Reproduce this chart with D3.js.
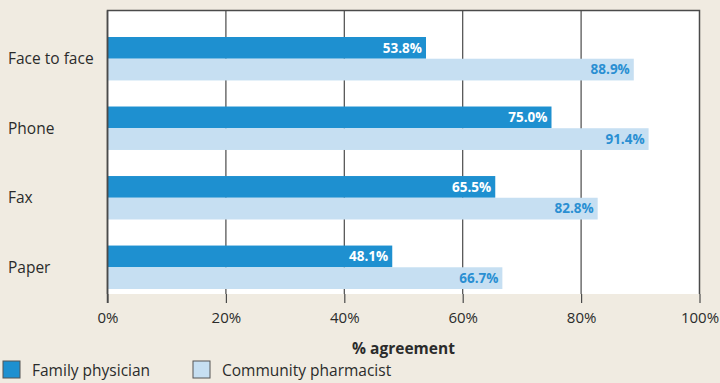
<!DOCTYPE html>
<html>
<head>
<meta charset="utf-8">
<script src="https://cdn.jsdelivr.net/npm/d3@7"></script>
<style>
  body { margin: 0; background: #f0ebe1; }
  svg { display: block; font-family: "Open Sans", "Noto Sans", sans-serif; }
</style>
</head>
<body>
<svg id="svg1" width="720" height="383"></svg>
<script>
'use strict';

// chart data
let categories = ["Face to face", "Phone", "Fax", "Paper"];
let seriesNames = ["Family physician", "Community pharmacist"];
let physician = [53.8, 75.0, 65.5, 48.1];
let pharmacist = [88.9, 91.4, 82.8, 66.7];
let xTicks = [0, 20, 40, 60, 80, 100];

let colours = ["#1e90d0", "#c6dff2"];
let labelColours = ["#ffffff", "#2a8fd2"];

let svg = d3.select("#svg1");
let plotLeft = 107.5, plotRight = 699.5, plotTop = 10.5, plotBottom = 294;

let x = d3.scaleLinear().domain([0, 100]).range([plotLeft, plotRight]);
let y = d3.scaleBand().domain(categories).range([37, 289]).paddingInner(0.375).paddingOuter(0);
let sub = d3.scaleBand().domain([0, 1]).range([0, y.bandwidth()]);

// plot background
svg.append("rect")
  .attr("x", plotLeft).attr("y", plotTop)
  .attr("width", plotRight - plotLeft).attr("height", plotBottom - plotTop)
  .style("fill", "#ffffff");

// grid lines
svg.append("g")
  .selectAll("line")
  .data(xTicks.slice(1, -1))
  .enter().append("line")
  .attr("x1", d => x(d)).attr("x2", d => x(d))
  .attr("y1", plotTop).attr("y2", plotBottom)
  .style("stroke", "#4a4a4a").style("stroke-width", 1.2);

// bars
let data = [];
categories.forEach((c, i) => {
  data.push({cat: c, s: 0, v: physician[i]});
  data.push({cat: c, s: 1, v: pharmacist[i]});
});

svg.append("g")
  .selectAll("rect")
  .data(data)
  .enter().append("rect")
  .attr("x", x(0))
  .attr("y", d => y(d.cat) + sub(d.s))
  .attr("width", d => x(d.v) - x(0))
  .attr("height", sub.bandwidth())
  .style("fill", d => colours[d.s]);

svg.append("g")
  .selectAll("text")
  .data(data)
  .enter().append("text")
  .attr("x", d => x(d.v) - 4)
  .attr("y", d => y(d.cat) + sub(d.s) + sub.bandwidth() / 2)
  .attr("dy", "0.36em")
  .attr("text-anchor", "end")
  .style("font-size", "13.5px")
  .style("font-weight", "bold")
  .style("fill", d => labelColours[d.s])
  .text(d => d.v.toFixed(1) + "%");

// frame: top and right thin, left axis line
svg.append("path")
  .attr("d", `M${plotLeft},${plotBottom}V${plotTop}H${plotRight}V${plotBottom}`)
  .style("fill", "none").style("stroke", "#4a4a4a").style("stroke-width", 1.5);

// x axis
let xAxis = svg.append("g")
  .attr("transform", `translate(0,${plotBottom})`)
  .call(d3.axisBottom(x).tickValues(xTicks).tickFormat(d => d + "%").tickSize(9).tickPadding(9));
xAxis.select(".domain").remove();
xAxis.selectAll(".tick line").style("stroke", "#4a4a4a").style("stroke-width", 1.2);
xAxis.selectAll(".tick text")
  .style("font-family", "'Open Sans', 'Noto Sans', sans-serif")
  .style("font-size", "15px")
  .style("fill", "#2b2b2b");

// left axis line running down to tick length
svg.append("line")
  .attr("x1", plotLeft).attr("x2", plotLeft)
  .attr("y1", plotTop).attr("y2", plotBottom + 9)
  .style("stroke", "#4a4a4a").style("stroke-width", 1.5);

// category labels
svg.append("g")
  .selectAll("text")
  .data(categories)
  .enter().append("text")
  .attr("x", 8)
  .attr("y", d => y(d) + y.bandwidth() / 2)
  .attr("dy", "0.36em")
  .style("font-size", "15.5px")
  .style("fill", "#2b2b2b")
  .text(d => d);

// axis title
svg.append("text")
  .attr("x", x(50))
  .attr("y", 354)
  .attr("text-anchor", "middle")
  .style("font-size", "15.5px")
  .style("font-weight", "bold")
  .style("fill", "#2b2b2b")
  .text("% agreement");

// legend
let legendX = [3, 193];
let legend = svg.append("g")
  .selectAll("g")
  .data(seriesNames)
  .enter().append("g")
  .attr("transform", (d, i) => `translate(${legendX[i]},361)`);
legend.append("rect")
  .attr("x", 0).attr("y", 0)
  .attr("width", 17).attr("height", 17)
  .style("fill", (d, i) => colours[i])
  .style("stroke", "#555").style("stroke-width", 1);
legend.append("text")
  .attr("x", 29).attr("y", 9)
  .attr("dy", "0.36em")
  .style("font-size", "15.5px")
  .style("fill", "#2b2b2b")
  .text(d => d);
</script>
</body>
</html>
